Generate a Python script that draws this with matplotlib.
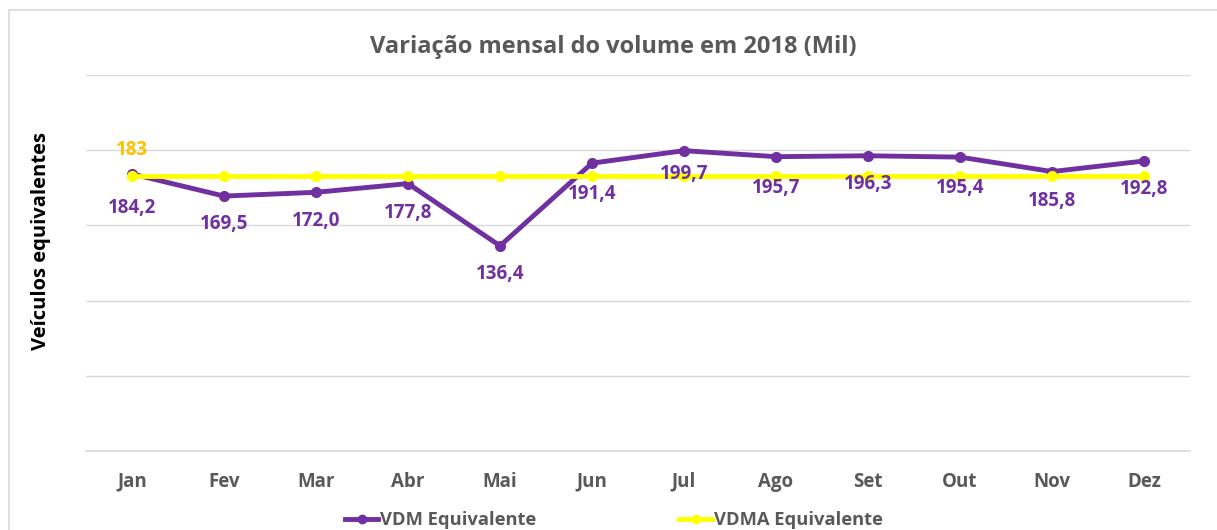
import matplotlib
matplotlib.use("Agg")
import matplotlib.pyplot as plt
from matplotlib.patches import Rectangle
from matplotlib.lines import Line2D

months = ["Jan", "Fev", "Mar", "Abr", "Mai", "Jun", "Jul", "Ago", "Set", "Out", "Nov", "Dez"]
vdm = [184.2, 169.5, 172.0, 177.8, 136.4, 191.4, 199.7, 195.7, 196.3, 195.4, 185.8, 192.8]
vdma = [183] * 12
vdm_labels = ["184,2", "169,5", "172,0", "177,8", "136,4", "191,4", "199,7", "195,7", "196,3", "195,4", "185,8", "192,8"]

# label offsets below points (pixels)
label_dy = [-34, -28, -29, -29, -28, -31, -23, -31, -28, -31, -29, -28]

plt.rcParams['font.family'] = ['Open Sans', 'DejaVu Sans']
GRAY = "#595959"
PURPLE = "#7030A0"
YELLOW = "#FFFF00"

fig = plt.figure(figsize=(12.17, 5.30), dpi=100)
ax = fig.add_axes([86/1217, 1-451/530, (1190-86)/1217, (451-75)/530])

# outer chart frame
fig.patches.append(Rectangle((9/1217, -0.1), 1.2, 1-10/530+0.1, transform=fig.transFigure,
                             fill=False, edgecolor="#D9D9D9", linewidth=1.2))

x = list(range(len(months)))
ax.plot(x, vdm, color=PURPLE, linewidth=3.5, marker='o', markersize=7, zorder=3,
        solid_joinstyle='round')
ax.plot(x, vdma, color=YELLOW, linewidth=3.5, marker='o', markersize=7, zorder=4)

for xi, v, lab, dy in zip(x, vdm, vdm_labels, label_dy):
    ax.annotate(lab, (xi, v), xytext=(0, dy), textcoords='offset pixels',
                ha='center', va='center', color=PURPLE, fontsize=13.5, fontweight='bold', zorder=5)
ax.annotate(str(vdma[0]), (x[0], vdma[0]), xytext=(0, 26), textcoords='offset pixels',
            ha='center', va='center', color="#FFC000", fontsize=13.5, fontweight='bold', zorder=5)

ax.set_xlim(-0.5, len(months) - 0.5)
ax.set_ylim(0, 250)
ax.set_yticks([0, 50, 100, 150, 200, 250])
ax.set_yticklabels([])
ax.tick_params(axis='y', length=0)
ax.grid(axis='y', color="#D9D9D9", linewidth=1)
ax.set_axisbelow(True)
for s in ["top", "right", "left"]:
    ax.spines[s].set_visible(False)
ax.spines["bottom"].set_color("#D9D9D9")
ax.spines["bottom"].set_linewidth(1.2)
ax.set_xticks(x)
ax.set_xticklabels(months, color=GRAY, fontsize=13.5, fontweight='bold')
ax.tick_params(axis='x', length=0, pad=15)

fig.text(613/1217, 1-47/530, "Variação mensal do volume em 2018 (Mil)", ha='center', va='center',
         color=GRAY, fontsize=17, fontweight='bold')
fig.text(41/1217, 1-241/530, "Veículos equivalentes", ha='center', va='center', rotation=90,
         color="black", fontsize=14.5, fontweight='bold')

handles = [Line2D([], [], color=PURPLE, linewidth=3.5, marker='o', markersize=6),
           Line2D([], [], color=YELLOW, linewidth=3.5, marker='o', markersize=6)]
fig.legend(handles, ["VDM Equivalente", "VDMA Equivalente"], loc='center',
           bbox_to_anchor=(614/1217, 1-520/530), ncol=2, frameon=False,
           handlelength=1.8, handletextpad=0.1, columnspacing=7.8,
           prop={'weight': 'bold', 'size': 13.2}, labelcolor=GRAY)

fig.savefig("out.png", dpi=100)
